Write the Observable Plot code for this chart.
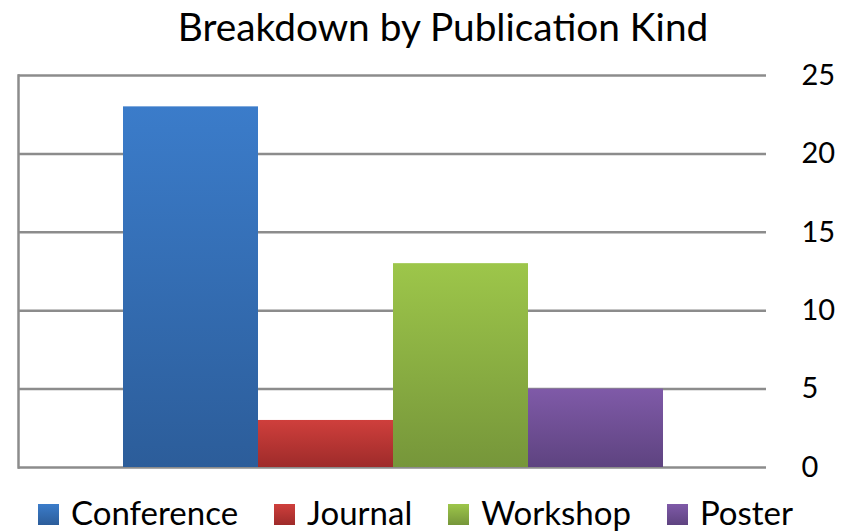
<!DOCTYPE html>
<html>
<head>
<meta charset="utf-8">
<script src="https://cdn.jsdelivr.net/npm/d3@7"></script>
<script src="https://cdn.jsdelivr.net/npm/@observablehq/plot@0.6"></script>
<style>
  html, body { margin: 0; padding: 0; background: #fff; }
  body { width: 844px; height: 531px; overflow: hidden; font-family: Lato, "Open Sans", sans-serif; color: #000; }
  #title { height: 50px; line-height: 52px; font-size: 38.8px; text-align: center; padding-left: 42px; box-sizing: border-box; white-space: nowrap; overflow: visible; }
  #chart svg { display: block; }
  #legend { height: 41px; display: flex; align-items: flex-start; padding-left: 38px; box-sizing: border-box; font-size: 33px; line-height: 41px; padding-top: 2px; }
  .item { display: flex; align-items: center; margin-right: 36px; white-space: nowrap; }
  .sw { width: 21px; height: 21px; margin-right: 12px; margin-top: 3px; }
</style>
</head>
<body>
<div id="title">Breakdown by Publication Kind</div>
<div id="chart"></div>
<div id="legend"></div>
<script>
const kinds = ["Conference", "Journal", "Workshop", "Poster"];
const counts = [23, 3, 13, 5];
const topColors = ["#3b7cca", "#cf3f3c", "#9dc64a", "#7f5aa8"];
const bottomColors = ["#2c5d9a", "#9e2b2a", "#76963a", "#5e4380"];
const yTicks = [0, 5, 10, 15, 20, 25];

const data = kinds.map((k, i) => ({kind: k, count: counts[i], fill: `url(#grad-${i})`}));

const plot = Plot.plot({
  width: 844,
  height: 440,
  marginTop: 25,
  marginBottom: 23,
  marginLeft: 18,
  marginRight: 78,
  style: {fontFamily: "Lato, 'Open Sans', sans-serif", background: "#fff", color: "#000"},
  x: {domain: kinds, range: [121, 664], padding: 0, axis: null},
  y: {domain: [0, 25], ticks: yTicks, axis: null},
  color: {type: "identity"},
  marks: [
    Plot.ruleY(yTicks, {stroke: "#8c8c8c", strokeWidth: 2.5}),
    Plot.frame({anchor: "left", stroke: "#8c8c8c", strokeWidth: 2.5}),
    Plot.barY(data, {x: "kind", y: "count", fill: "fill"}),
    Plot.axisY({anchor: "right", ticks: yTicks, tickSize: 0, tickPadding: 35, fontSize: 29, textAnchor: "start", fill: "#000", label: null})
  ]
});

// gradients for bars
const svg = d3.select(plot);
const defs = svg.insert("defs", ":first-child");
kinds.forEach((k, i) => {
  const g = defs.append("linearGradient").attr("id", `grad-${i}`).attr("x1", 0).attr("y1", 0).attr("x2", 0).attr("y2", 1);
  g.append("stop").attr("offset", "0%").attr("stop-color", topColors[i]);
  g.append("stop").attr("offset", "100%").attr("stop-color", bottomColors[i]);
});

document.getElementById("chart").appendChild(plot);

const legend = d3.select("#legend");
kinds.forEach((k, i) => {
  const item = legend.append("div").attr("class", "item");
  item.append("div").attr("class", "sw")
    .style("background", `linear-gradient(${topColors[i]}, ${bottomColors[i]})`);
  item.append("span").text(k);
});
</script>
</body>
</html>
